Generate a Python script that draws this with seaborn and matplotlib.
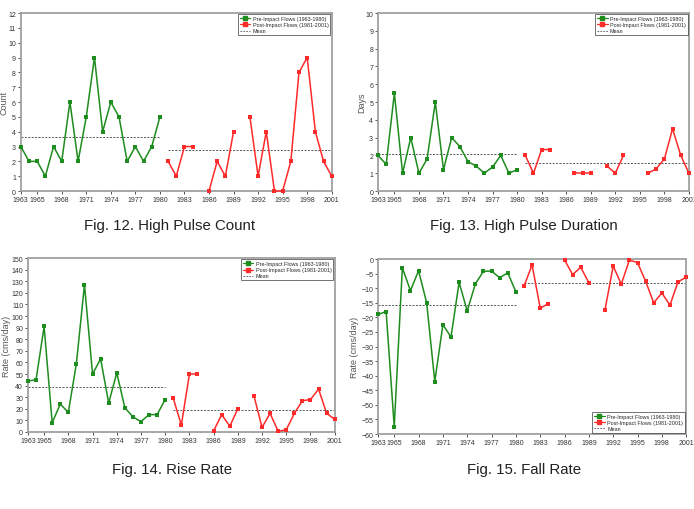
import numpy as np
import pandas as pd
import matplotlib
matplotlib.use('Agg')
import matplotlib.pyplot as plt
from matplotlib.lines import Line2D
import seaborn as sns

# Indicators of hydrologic alteration, pre/post impact

years_pre = list(range(1963, 1981))
years_post = list(range(1981, 2002))
nan = np.nan

count_pre = [3, 2, 2, 1, 3, 2, 6, 2, 5, 9, 4, 6, 5, 2, 3, 2, 3, 5]
count_post = [2, 1, 3, 3, nan, 0, 2, 1, 4, nan, 5, 1, 4, 0, 0, 2, 8, 9, 4, 2, 1]

days_pre = [2.0, 1.5, 5.5, 1.0, 3.0, 1.0, 1.8, 5.0, 1.2, 3.0, 2.5, 1.65, 1.4, 1.0, 1.35, 2.0, 1.0, 1.2]
days_post = [2.0, 1.0, 2.33, 2.33, nan, nan, 1.0, 1.0, 1.0, nan, 1.4, 1.0, 2.0, nan, nan, 1.0, 1.25, 1.8, 3.5, 2.0, 1.0]

rise_pre = [44, 45, 91, 8, 24, 17, 59, 127, 50, 63, 25, 51, 21, 13, 9, 15, 15, 28]
rise_post = [29, 6, 50, 50, nan, 1, 15, 5, 20, nan, 31, 4, 16, 0.5, 2, 16, 27, 28, 37, 16, 11]

fall_pre = [-19, -18, -57.5, -3, -10.8, -4, -15, -42, -22.5, -26.7, -8, -17.8, -8.5, -4.2, -4.1, -6.4, -4.7, -11.2]
fall_post = [-9.3, -2, -16.8, -15.3, nan, -0.3, -5.3, -2.8, -8.1, nan, -17.3, -2.4, -8.6, -0.3, -1.2, -7.6, -15, -11.6, -15.8, -7.8, -6.2]

xtick_labels = [1963, 1965, 1968, 1971, 1974, 1977, 1980, 1983, 1986, 1989, 1992, 1995, 1998, 2001]

pre_label = 'Pre-Impact Flows (1963-1980)'
post_label = 'Post-Impact Flows (1981-2001)'
green = '#1e8c1e'
red = '#ff2a2a'

sns.set_style('white')
plt.rcParams['font.family'] = ['Liberation Sans', 'DejaVu Sans']

fig = plt.figure(figsize=(6.94, 5.10), dpi=100)

panels = [
    dict(pre=count_pre, post=count_post, ylabel='Count', ylim=(0, 12), step=1,
         rect=[0.030, 0.6235, 0.448, 0.349], loc='upper right', ylab_x=-0.039,
         caption='Fig. 12. High Pulse Count', cap_xy=(0.245, 0.557)),
    dict(pre=days_pre, post=days_post, ylabel='Days', ylim=(0, 10), step=1,
         rect=[0.5447, 0.6235, 0.448, 0.349], loc='upper right', ylab_x=-0.039,
         caption='Fig. 13. High Pulse Duration', cap_xy=(0.755, 0.557)),
    dict(pre=rise_pre, post=rise_post, ylabel='Rate (cms/day)', ylim=(0, 150), step=10,
         rect=[0.0403, 0.151, 0.442, 0.341], loc='upper right', ylab_x=-0.055,
         caption='Fig. 14. Rise Rate', cap_xy=(0.248, 0.078)),
    dict(pre=fall_pre, post=fall_post, ylabel='Rate (cms/day)', ylim=(-60, 0), step=5,
         rect=[0.5447, 0.147, 0.444, 0.343], loc='lower right', ylab_x=-0.063,
         caption='Fig. 15. Fall Rate', cap_xy=(0.755, 0.078)),
]


def to_frame(years, values, period):
    df = pd.DataFrame({'year': years, 'value': values})
    # break the line where a year is missing
    df['segment'] = df['value'].isna().cumsum()
    df['segment'] = period + df['segment'].astype(str)
    df['period'] = period
    return df.dropna()


for p in panels:
    ax = fig.add_axes(p['rect'])
    df = pd.concat([to_frame(years_pre, p['pre'], 'pre'),
                    to_frame(years_post, p['post'], 'post')])
    sns.lineplot(data=df, x='year', y='value', hue='period', units='segment',
                 estimator=None, palette={'pre': green, 'post': red},
                 marker='s', markersize=3.2, markeredgewidth=0, linewidth=1.1,
                 legend=False, ax=ax, clip_on=False, zorder=3)

    mean_pre = np.nanmean(p['pre'])
    mean_post = np.nanmean(p['post'])
    ax.plot([years_pre[0], years_pre[-1]], [mean_pre, mean_pre], ls=(0, (2, 1.5)),
            color='#555555', lw=0.7, zorder=2)
    ax.plot([years_post[0], years_post[-1]], [mean_post, mean_post], ls=(0, (2, 1.5)),
            color='#555555', lw=0.7, zorder=2)

    ax.set_xlim(1963, 2001)
    ax.set_ylim(*p['ylim'])
    ax.set_xticks(xtick_labels)
    ax.set_xticklabels([str(y) for y in xtick_labels])
    ax.set_yticks(np.arange(p['ylim'][0], p['ylim'][1] + p['step'] / 2, p['step']))
    ax.tick_params(axis='both', labelsize=5, colors='#333333', length=2, width=0.6,
                   pad=1.5, direction='out', bottom=True, left=True)
    ax.set_xlabel('')
    ax.set_ylabel(p['ylabel'], fontsize=6.5, color='#555555')
    ax.yaxis.set_label_coords(p['ylab_x'], 0.5)
    for s in ax.spines.values():
        s.set_color('#a0a0a0')
        s.set_linewidth(1.3)

    handles = [Line2D([], [], color=green, marker='s', markersize=2.3, lw=0.9),
               Line2D([], [], color=red, marker='s', markersize=2.3, lw=0.9),
               Line2D([], [], color='#555555', ls=(0, (2, 1.5)), lw=0.6)]
    leg = ax.legend(handles, [pre_label, post_label, 'Mean'], loc=p['loc'],
                    fontsize=3.9, frameon=True, fancybox=False, borderaxespad=0.25,
                    handlelength=2.0, handletextpad=0.4, borderpad=0.35,
                    labelspacing=0.2)
    leg.get_frame().set_edgecolor('#333333')
    leg.get_frame().set_linewidth(0.6)

    fig.text(p['cap_xy'][0], p['cap_xy'][1], p['caption'], ha='center', va='center',
             fontsize=10.8, color='#222222')

fig.savefig('out.png', dpi=100)
